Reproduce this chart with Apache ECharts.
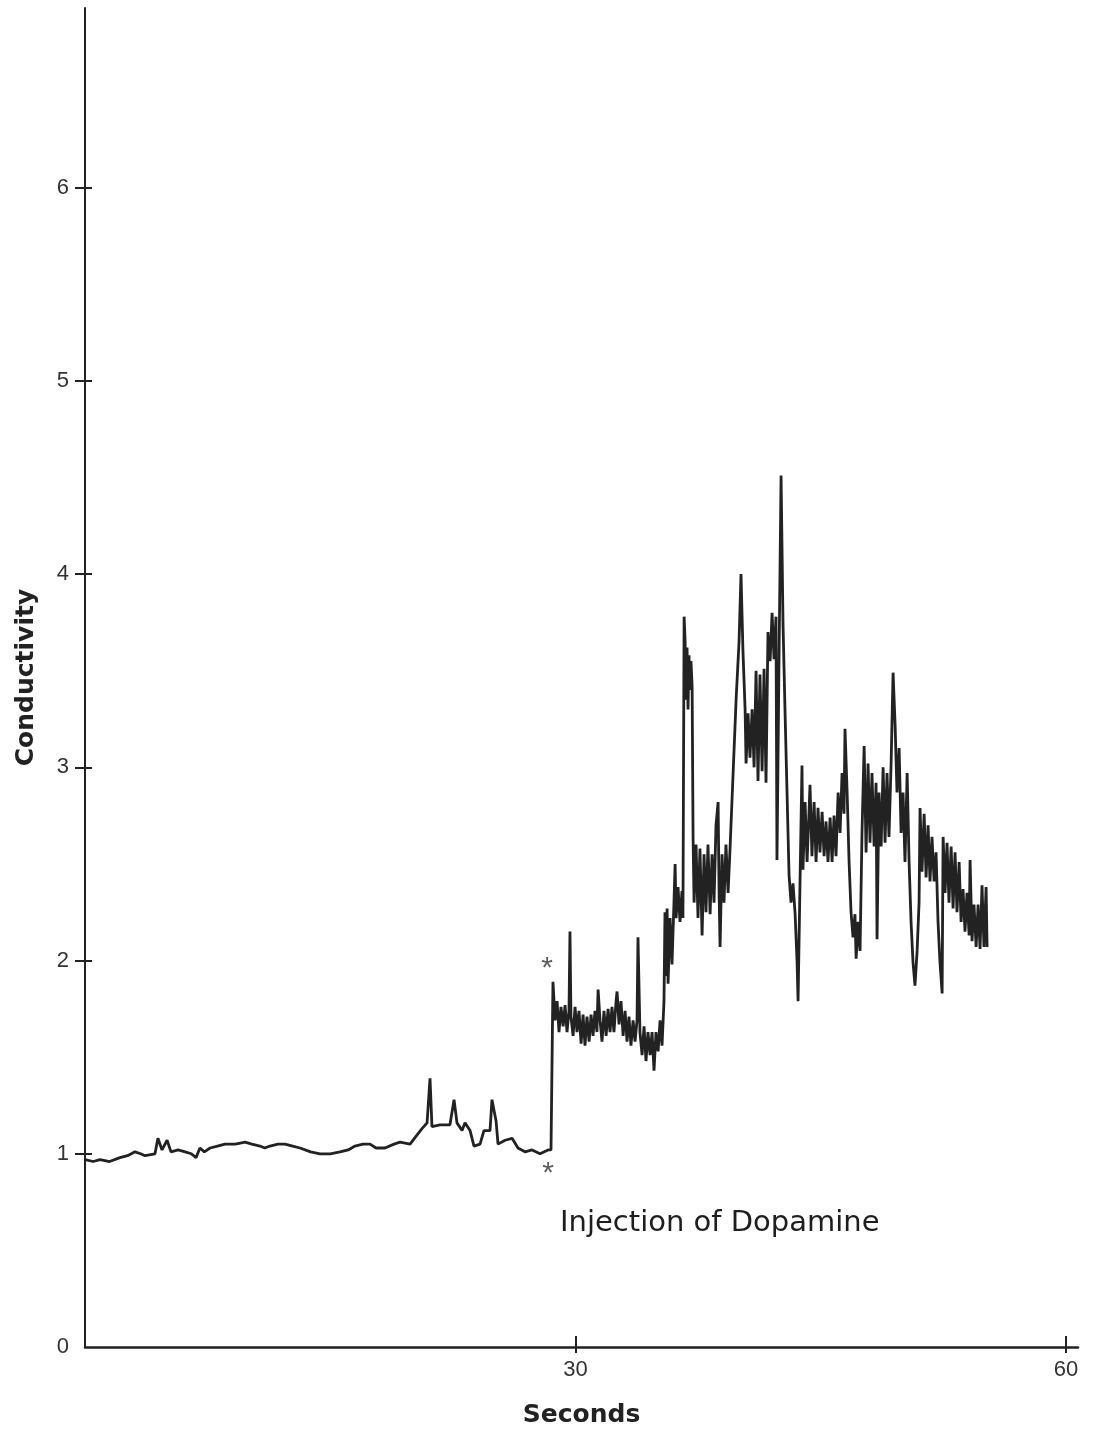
<!DOCTYPE html>
<html>
<head>
<meta charset="utf-8">
<script src="https://cdn.jsdelivr.net/npm/echarts@6/dist/echarts.min.js"></script>
<style>
html,body{margin:0;padding:0;background:#fff;}
#chart{width:1094px;height:1439px;}
</style>
</head>
<body>
<div id="chart"></div>
<script>
// Time (seconds) of each sampled point of the recorder trace
const seconds = [
0.00,0.50,0.92,1.50,2.14,2.60,3.06,3.40,3.67,4.28,4.46,4.71,5.02,5.26,5.70,6.12,6.50,6.79,7.03,7.30,
7.65,8.10,8.56,9.20,9.79,10.20,10.70,11.00,11.31,11.80,12.23,12.70,13.15,13.80,14.37,15.00,15.60,16.10,16.51,17.00,
17.43,17.80,18.35,18.90,19.27,19.88,20.24,20.61,20.92,21.10,21.22,21.71,22.32,22.57,22.75,23.06,23.24,23.55,23.79,24.16,
24.40,24.77,24.89,25.14,25.26,25.69,26.12,26.48,26.91,27.34,27.83,28.32,28.50,
28.62,28.75,28.87,28.99,29.11,29.24,29.36,29.48,29.60,29.66,29.72,29.85,29.97,30.09,30.21,30.34,30.46,30.58,30.70,30.83,
30.95,31.07,31.19,31.31,31.38,31.50,31.62,31.74,31.87,31.99,32.11,32.23,32.35,32.48,32.54,32.66,32.78,32.91,33.03,33.15,
33.27,33.39,33.52,33.64,33.76,33.82,33.94,34.07,34.19,34.31,34.43,34.56,34.68,34.80,34.92,35.05,35.17,35.29,35.41,35.47,
35.54,35.60,35.66,35.78,35.90,36.02,36.09,36.15,36.27,36.39,36.51,36.57,36.64,36.70,36.76,36.82,36.88,36.94,37.00,37.06,
37.13,37.19,37.25,37.37,37.49,37.61,37.74,37.86,37.98,38.10,38.23,38.35,38.47,38.59,38.72,38.78,38.84,38.96,39.08,39.20,
39.33,39.45,39.82,40.00,40.12,40.24,40.37,40.43,40.55,40.67,40.80,40.92,41.04,41.16,41.28,41.41,41.53,41.65,41.77,41.90,
42.02,42.14,42.26,42.32,42.45,42.57,42.69,42.81,42.94,43.06,43.18,43.30,43.43,43.55,43.61,43.73,43.85,43.91,44.04,44.16,
44.28,44.34,44.46,44.59,44.71,44.83,44.95,45.08,45.20,45.32,45.44,45.57,45.69,45.81,45.93,46.06,46.18,46.30,46.42,46.48,
46.61,46.73,46.85,46.97,47.09,47.16,47.28,47.40,47.52,47.65,47.77,47.89,48.01,48.13,48.26,48.38,48.44,48.56,48.69,48.81,
48.93,49.05,49.17,49.30,49.42,49.54,49.66,49.79,49.91,50.03,50.15,50.28,50.40,50.52,50.64,50.76,50.89,51.01,51.07,51.19,
51.32,51.44,51.56,51.68,51.80,51.93,52.05,52.17,52.29,52.42,52.48,52.60,52.72,52.84,52.97,53.09,53.21,53.33,53.46,53.58,
53.70,53.82,53.94,54.07,54.13,54.25,54.37,54.50,54.62,54.74,54.86,54.98,55.11,55.17
];
// Conductivity at each time above
const conductivity = [
0.97,0.96,0.97,0.96,0.98,0.99,1.01,1.00,0.99,1.00,1.08,1.02,1.07,1.01,1.02,1.01,1.00,0.98,1.03,1.01,
1.03,1.04,1.05,1.05,1.06,1.05,1.04,1.03,1.04,1.05,1.05,1.04,1.03,1.01,1.00,1.00,1.01,1.02,1.04,1.05,
1.05,1.03,1.03,1.05,1.06,1.05,1.09,1.13,1.16,1.39,1.14,1.15,1.15,1.28,1.16,1.12,1.16,1.12,1.04,1.05,
1.12,1.12,1.28,1.17,1.05,1.07,1.08,1.03,1.01,1.02,1.00,1.02,1.02,
1.89,1.69,1.79,1.63,1.76,1.66,1.77,1.63,1.74,2.15,1.71,1.61,1.76,1.63,1.74,1.57,1.72,1.56,1.71,1.58,
1.72,1.61,1.74,1.63,1.85,1.69,1.58,1.74,1.61,1.75,1.63,1.76,1.63,1.79,1.84,1.67,1.79,1.61,1.74,1.58,
1.71,1.56,1.69,1.58,1.69,2.12,1.63,1.51,1.66,1.48,1.63,1.51,1.63,1.43,1.63,1.53,1.69,1.56,1.79,2.25,
1.92,2.27,1.88,2.22,1.98,2.30,2.50,2.22,2.38,2.20,2.36,2.22,3.78,3.66,3.35,3.62,3.30,3.58,3.40,3.55,
3.42,2.63,2.30,2.60,2.22,2.58,2.13,2.55,2.25,2.60,2.24,2.55,2.30,2.70,2.82,2.35,2.07,2.55,2.30,2.60,
2.35,2.58,3.35,3.65,4.00,3.60,3.30,3.02,3.28,3.05,3.30,3.00,3.50,2.93,3.48,2.98,3.51,2.92,3.70,3.55,
3.80,3.56,3.78,2.52,3.60,4.51,3.74,3.30,2.85,2.44,2.30,2.40,2.24,1.99,1.79,2.41,3.01,2.47,2.82,2.51,
2.77,2.91,2.54,2.82,2.51,2.79,2.56,2.77,2.54,2.72,2.51,2.74,2.51,2.75,2.54,2.87,2.66,2.97,2.76,3.20,
2.87,2.51,2.25,2.12,2.24,2.01,2.20,2.05,2.66,3.11,2.56,3.02,2.61,2.97,2.59,2.92,2.11,2.87,2.59,3.00,
2.61,2.97,2.64,3.02,3.49,3.23,2.87,3.10,2.66,2.87,2.51,2.97,2.51,2.20,1.99,1.87,2.05,2.30,2.79,2.46,
2.76,2.43,2.70,2.41,2.64,2.41,2.56,2.20,1.99,1.83,2.64,2.35,2.61,2.30,2.59,2.27,2.56,2.25,2.51,2.20,
2.37,2.15,2.35,2.13,2.52,2.10,2.29,2.07,2.29,2.06,2.39,2.07,2.38,2.07
];
// Asterisks marking the injection (time, conductivity)
const starTimes = [28.26, 28.32];
const starValues = [1.99, 0.93];
// Tick labels
const xTickValues = [30, 60];
const yTickLabelValues = [0, 1, 2, 3, 4, 5, 6];
const yTickValues = [1, 2, 3, 4, 5, 6];
const annotationText = 'Injection of Dopamine';

const traceData = seconds.map((t, i) => [t, conductivity[i]]);
const starData = starTimes.map((t, i) => [t, starValues[i]]);

const ink = '#222';
const chart = echarts.init(document.getElementById('chart'), null, {renderer: 'canvas'});
chart.setOption({
  animation: false,
  backgroundColor: '#fff',
  title: {
    text: annotationText,
    left: 555, top: 1204,
    textStyle: {fontFamily: 'DejaVu Sans', fontSize: 29, fontWeight: 'normal', color: '#1e1e1e'}
  },
  grid: {left: 85, right: 16, top: 8, bottom: 92, outerBoundsMode: 'none'},
  xAxis: [{
    type: 'value', min: 0, max: 60.73,
    name: 'Seconds', nameLocation: 'middle', nameGap: 56,
    nameTextStyle: {fontFamily: 'DejaVu Sans', fontSize: 25, fontWeight: 'bold', color: '#222', verticalAlign: 'top'},
    axisLine: {show: true, lineStyle: {color: ink, width: 2.5}},
    axisTick: {show: true, customValues: xTickValues, length: 6, lineStyle: {color: ink, width: 2}},
    axisLabel: {customValues: xTickValues, margin: 12, fontFamily: 'Liberation Sans', fontSize: 22, color: '#333'},
    splitLine: {show: false}
  }, {
    type: 'value', min: 0, max: 60.73, position: 'bottom',
    axisLine: {show: false},
    axisTick: {show: true, inside: true, customValues: xTickValues, length: 11, lineStyle: {color: ink, width: 2}},
    axisLabel: {show: false},
    splitLine: {show: false}
  }],
  yAxis: [{
    type: 'value', min: 0, max: 6.93,
    name: 'Conductivity', nameLocation: 'middle', nameGap: 46,
    nameTextStyle: {fontFamily: 'DejaVu Sans', fontSize: 25, fontWeight: 'bold', color: '#222'},
    axisLine: {show: true, lineStyle: {color: ink, width: 2}},
    axisTick: {show: true, customValues: yTickValues, length: 10, lineStyle: {color: ink, width: 2}},
    axisLabel: {customValues: yTickLabelValues, margin: 16, fontFamily: 'Liberation Sans', fontSize: 22, color: '#333'},
    splitLine: {show: false}
  }, {
    type: 'value', min: 0, max: 6.93, position: 'left',
    axisLine: {show: false},
    axisTick: {show: true, inside: true, customValues: yTickValues, length: 7, lineStyle: {color: ink, width: 2}},
    axisLabel: {show: false},
    splitLine: {show: false}
  }],
  series: [{
    type: 'line',
    data: traceData,
    showSymbol: false,
    lineStyle: {color: ink, width: 2.8},
    xAxisIndex: 0, yAxisIndex: 0
  }, {
    type: 'scatter',
    data: starData,
    symbolSize: 1,
    itemStyle: {color: 'rgba(0,0,0,0)'},
    label: {show: true, formatter: '*', position: 'inside', fontFamily: 'Liberation Sans', fontSize: 30, color: '#333', offset: [0, 6]},
    xAxisIndex: 0, yAxisIndex: 0
  }]
});
</script>
</body>
</html>
